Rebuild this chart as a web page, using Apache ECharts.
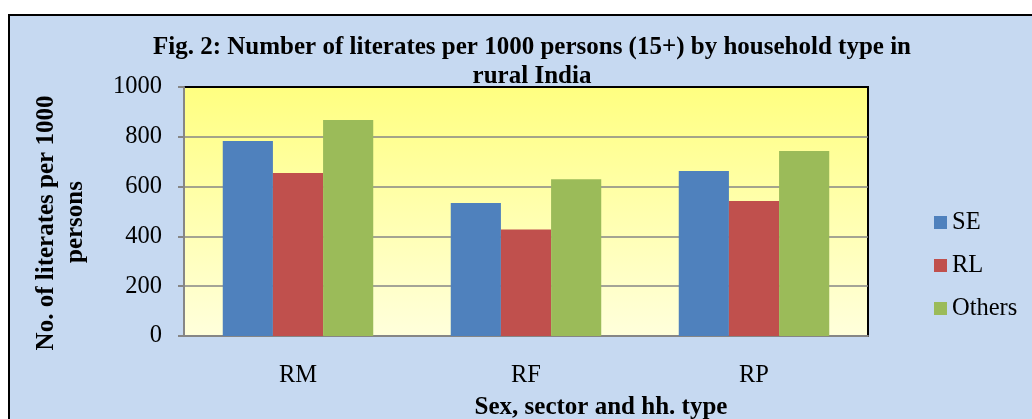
<!DOCTYPE html>
<html>
<head>
<meta charset="utf-8">
<script src="https://cdn.jsdelivr.net/npm/echarts@6/dist/echarts.min.js"></script>
<style>
  html, body { margin: 0; padding: 0; background: #fff; }
  #myChart {
    position: absolute; left: 8px; top: 14px;
    width: 1024px; height: 405px;
    border-top: 2px solid #000; border-left: 2px solid #000;
    background: #c6d9f1;
  }
</style>
</head>
<body>
<div id="myChart"></div>
<script>
// categories and series (literates per 1000 persons)
const categories = ['RM', 'RF', 'RP'];
const seNums = [783, 534, 663];
const rlNums = [655, 428, 542];
const othersNums = [867, 630, 743];
const yTicks = { min: 0, max: 1000, interval: 200 };

const serif = '"Liberation Serif", "Times New Roman", serif';

let option = {
  animation: false,
  title: {
    text: 'Fig. 2: Number of literates per 1000 persons (15+) by household type in\nrural India',
    left: 517,
    top: 12,
    textAlign: 'center',
    textStyle: {
      fontFamily: serif,
      fontWeight: 'bold',
      fontSize: 25,
      lineHeight: 29,
      color: '#000'
    }
  },
  legend: {
    orient: 'vertical',
    left: 924,
    top: 194,
    padding: 0,
    itemWidth: 13,
    itemHeight: 13,
    itemGap: 18,
    icon: 'rect',
    textStyle: {
      fontFamily: serif,
      fontSize: 24.5,
      lineHeight: 24,
      color: '#000'
    },
    data: ['SE', 'RL', 'Others']
  },
  grid: {
    left: 174,
    top: 71,
    width: 684,
    height: 249,
    show: true,
    borderColor: '#000',
    borderWidth: 2,
    backgroundColor: {
      type: 'linear', x: 0, y: 0, x2: 0, y2: 1,
      colorStops: [
        { offset: 0, color: '#ffff80' },
        { offset: 1, color: '#ffffdc' }
      ]
    }
  },
  //x轴
  xAxis: {
    type: 'category',
    data: categories,
    axisLine: { lineStyle: { color: '#868686', width: 2 } },
    axisTick: { length: 6, lineStyle: { color: '#868686', width: 2 } },
    axisLabel: {
      margin: 27,
      fontFamily: serif,
      fontSize: 24.5,
      color: '#000'
    }
  },
  //y轴
  yAxis: {
    type: 'value',
    min: yTicks.min,
    max: yTicks.max,
    interval: yTicks.interval,
    axisLine: { show: true, lineStyle: { color: '#868686', width: 2 } },
    axisTick: { show: true, length: 6, lineStyle: { color: '#868686', width: 2 } },
    axisLabel: {
      margin: 22,
      fontFamily: serif,
      fontSize: 24.5,
      color: '#000',
      formatter: v => String(v)
    },
    splitLine: {
      showMaxLine: false,
      showMinLine: false,
      lineStyle: { color: '#868686', width: 1.5 }
    }
  },
  graphic: [
    {
      type: 'text',
      x: 37, y: 207,
      rotation: Math.PI / 2,
      style: {
        text: 'No. of literates per 1000',
        font: 'bold 25px ' + serif,
        fill: '#000',
        align: 'center',
        verticalAlign: 'middle'
      }
    },
    {
      type: 'text',
      x: 66, y: 206,
      rotation: Math.PI / 2,
      style: {
        text: 'persons',
        font: 'bold 25px ' + serif,
        fill: '#000',
        align: 'center',
        verticalAlign: 'middle'
      }
    },
    {
      type: 'text',
      x: 591, y: 392,
      style: {
        text: 'Sex, sector and hh. type',
        font: 'bold 25px ' + serif,
        fill: '#000',
        align: 'center',
        verticalAlign: 'middle'
      }
    }
  ],
  series: [
    {
      name: 'SE',
      type: 'bar',
      color: '#4f81bd',
      barGap: 0,
      barCategoryGap: '34%',
      data: seNums
    },
    {
      name: 'RL',
      type: 'bar',
      color: '#c0504d',
      barGap: 0,
      barCategoryGap: '34%',
      data: rlNums
    },
    {
      name: 'Others',
      type: 'bar',
      color: '#9bbb59',
      barGap: 0,
      barCategoryGap: '34%',
      data: othersNums
    }
  ]
};

const myChart = echarts.init(document.getElementById('myChart'));
myChart.setOption(option);
</script>
</body>
</html>
